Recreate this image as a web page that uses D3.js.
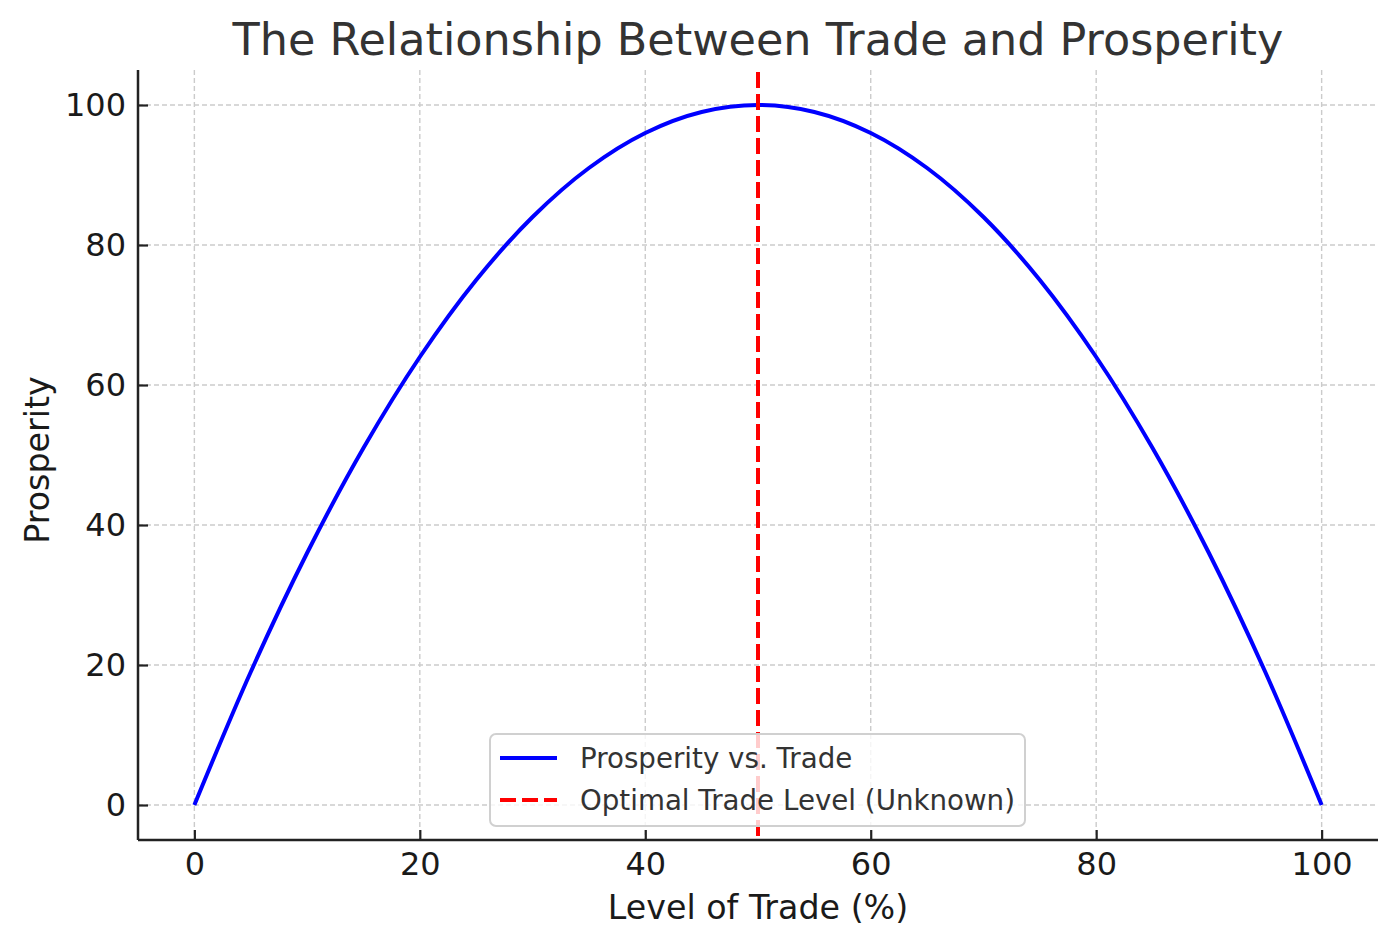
<!DOCTYPE html>
<html>
<head>
<meta charset="utf-8">
<script src="https://cdn.jsdelivr.net/npm/d3@7"></script>
<style>
  html, body { margin: 0; padding: 0; background: #fff; }
  svg { display: block; font-family: "DejaVu Sans", sans-serif; }
</style>
</head>
<body>
<svg id="chart" width="1397" height="947"></svg>
<script>
// ---- data ----
const tradeLevels = [0, 5, 10, 15, 20, 25, 30, 35, 40, 45, 50, 55, 60, 65, 70, 75, 80, 85, 90, 95, 100];
const prosperity  = [0, 19, 36, 51, 64, 75, 84, 91, 96, 99, 100, 99, 96, 91, 84, 75, 64, 51, 36, 19, 0];
const optimalTrade = 50;
const xTicks = [0, 20, 40, 60, 80, 100];
const yTicks = [0, 20, 40, 60, 80, 100];
const titleText = "The Relationship Between Trade and Prosperity";
const xLabel = "Level of Trade (%)";
const yLabel = "Prosperity";
const legendLabels = ["Prosperity vs. Trade", "Optimal Trade Level (Unknown)"];

(function () {
// ---- layout ----
const svg = d3.select("#chart");
const mLeft = 138, mRight = 1378, mTop = 70, mBottom = 840;

const x = d3.scaleLinear().domain([-5, 105]).range([mLeft, mRight]);
const y = d3.scaleLinear().domain([-5, 105]).range([mBottom, mTop]);

// grid
const grid = svg.append("g");
grid.selectAll("line.gx").data(xTicks).join("line").attr("class", "gx")
  .attr("x1", d => x(d)).attr("x2", d => x(d))
  .attr("y1", mTop).attr("y2", mBottom)
  .attr("stroke", "#cbcbcb").attr("stroke-width", 1.4).attr("stroke-dasharray", "5,3");
grid.selectAll("line.gy").data(yTicks).join("line").attr("class", "gy")
  .attr("x1", mLeft).attr("x2", mRight)
  .attr("y1", d => y(d)).attr("y2", d => y(d))
  .attr("stroke", "#cbcbcb").attr("stroke-width", 1.4).attr("stroke-dasharray", "5,3");

// prosperity curve
const pts = tradeLevels.map((t, i) => [t, prosperity[i]]);
const line = d3.line().x(d => x(d[0])).y(d => y(d[1])).curve(d3.curveCatmullRom.alpha(0.5));
svg.append("path").datum(pts)
  .attr("d", line)
  .attr("fill", "none").attr("stroke", "#0000ff").attr("stroke-width", 4)
  .attr("stroke-linejoin", "round").attr("stroke-linecap", "butt");

// optimal line
svg.append("line")
  .attr("x1", x(optimalTrade)).attr("x2", x(optimalTrade))
  .attr("y1", mTop + 2).attr("y2", mBottom)
  .attr("stroke", "#ff0000").attr("stroke-width", 4).attr("stroke-dasharray", "16,6");

// axes
const xAxis = d3.axisBottom(x).tickValues(xTicks).tickSizeInner(-10).tickSizeOuter(0).tickPadding(14).tickFormat(d3.format("d"));
const yAxis = d3.axisLeft(y).tickValues(yTicks).tickSizeInner(-10).tickSizeOuter(0).tickPadding(12).tickFormat(d3.format("d"));

const gx = svg.append("g").attr("transform", `translate(0,${mBottom})`).call(xAxis);
const gy = svg.append("g").attr("transform", `translate(${mLeft},0)`).call(yAxis);
[gx, gy].forEach(g => {
  g.select(".domain").attr("stroke", "#222").attr("stroke-width", 2.5);
  g.selectAll(".tick line").attr("stroke", "#222").attr("stroke-width", 2.2);
  g.selectAll(".tick text").attr("fill", "#1a1a1a")
    .style("font-family", "'DejaVu Sans', sans-serif").style("font-size", "32px");
});
gx.select(".domain").attr("d", `M${mLeft},0H${mRight}`);
gy.select(".domain").attr("d", `M0,${mBottom}V${mTop}`);
gx.selectAll(".tick text").attr("dy", "0.71em").attr("y", 12);
gy.selectAll(".tick text").attr("x", -12);

// title & labels
svg.append("text").attr("x", (mLeft + mRight) / 2).attr("y", 55)
  .attr("text-anchor", "middle").attr("fill", "#333")
  .style("font-size", "44.5px").text(titleText);
svg.append("text").attr("x", (mLeft + mRight) / 2).attr("y", 919)
  .attr("text-anchor", "middle").attr("fill", "#1a1a1a")
  .style("font-size", "33.3px").text(xLabel);
svg.append("text").attr("transform", `translate(49,460) rotate(-90)`)
  .attr("text-anchor", "middle").attr("fill", "#1a1a1a")
  .style("font-size", "33.3px").text(yLabel);

// legend
const lg = svg.append("g");
lg.append("rect").attr("x", 490).attr("y", 734).attr("width", 535).attr("height", 92)
  .attr("rx", 6).attr("ry", 6)
  .attr("fill", "#fff").attr("fill-opacity", 0.8)
  .attr("stroke", "#d0d0d0").attr("stroke-width", 2);
const legendStyles = [
  { color: "#0000ff", dash: null },
  { color: "#ff0000", dash: "16,6" }
];
legendLabels.forEach((lab, i) => {
  const ly = 758 + i * 42;
  lg.append("line").attr("x1", 500).attr("x2", 557).attr("y1", ly).attr("y2", ly)
    .attr("stroke", legendStyles[i].color).attr("stroke-width", 4)
    .attr("stroke-dasharray", legendStyles[i].dash);
  lg.append("text").attr("x", 580).attr("y", ly).attr("dy", "0.35em")
    .attr("fill", "#333").style("font-size", "27.7px").text(lab);
});
})();
</script>
</body>
</html>
